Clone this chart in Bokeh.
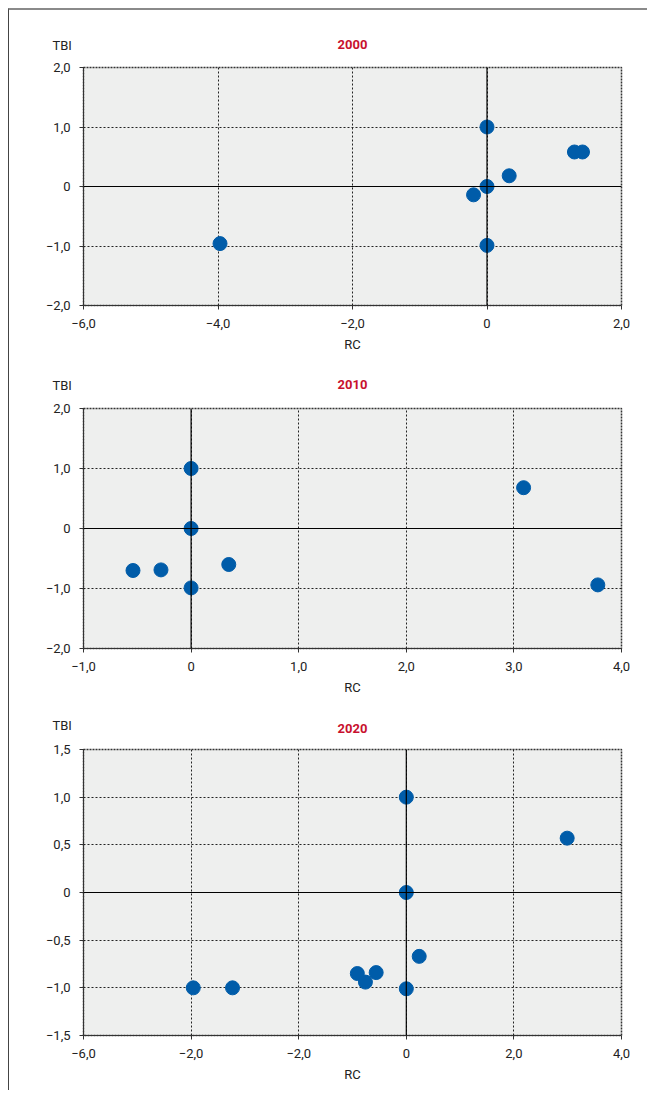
from bokeh.plotting import figure
from bokeh.layouts import column
from bokeh.models import FixedTicker, Span, Title
from bokeh.embed import file_html
from bokeh.resources import INLINE

# ---------------- data ----------------
titles = ["2000", "2010", "2020"]

x2000 = [-3.97, -0.20, 0.0, 0.0, 0.0, 0.33, 1.30, 1.42]
y2000 = [-0.96, -0.14, 1.00, 0.00, -0.99, 0.18, 0.58, 0.58]

x2010 = [-0.54, -0.28, 0.0, 0.0, 0.0, 0.35, 3.09, 3.78]
y2010 = [-0.70, -0.69, 1.00, 0.00, -0.99, -0.60, 0.68, -0.94]

x2020 = [-3.96, -3.23, -0.91, -0.76, -0.56, 0.0, 0.24, 0.0, 0.0, 2.99]
y2020 = [-1.00, -1.00, -0.85, -0.94, -0.84, -1.01, -0.67, 0.00, 1.00, 0.57]

xticks2000 = [-6, -4, -2, 0, 2]
xlabels2000 = ["\u22126,0", "\u22124,0", "\u22122,0", "0", "2,0"]
yticks2000 = [-2, -1, 0, 1, 2]
ylabels2000 = ["\u22122,0", "\u22121,0", "0", "1,0", "2,0"]

xticks2010 = [-1, 0, 1, 2, 3, 4]
xlabels2010 = ["\u22121,0", "0", "1,0", "2,0", "3,0", "4,0"]
yticks2010 = [-2, -1, 0, 1, 2]
ylabels2010 = ["\u22122,0", "\u22121,0", "0", "1,0", "2,0"]

xticks2020 = [-6, -4, -2, 0, 2, 4]
xlabels2020 = ["\u22126,0", "\u22122,0", "\u22122,0", "0", "2,0", "4,0"]
yticks2020 = [-1.5, -1, -0.5, 0, 0.5, 1, 1.5]
ylabels2020 = ["\u22121,5", "\u22121,0", "\u22120,5", "0", "0,5", "1,0", "1,5"]

x_axis_label = "RC"
y_axis_label = "TBI"

FONT = "Roboto"
BLUE = "#005ca9"
RED = "#c8102e"
TXT = "#222222"


def build(title, xs, ys, xticks, xlabels, yticks, ylabels,
          frame_h, b_top, b_bottom, d_title, d_tbi):
    W = 638
    b_left = 74
    frame_w = 538
    b_right = W - b_left - frame_w
    H = b_top + frame_h + b_bottom
    p = figure(width=W, height=H, output_backend="svg", toolbar_location=None,
               x_range=(xticks[0], xticks[-1]), y_range=(yticks[0], yticks[-1]),
               min_border_left=b_left, min_border_right=b_right,
               min_border_top=b_top, min_border_bottom=b_bottom,
               background_fill_color="#eeefee", border_fill_color="white")
    p.outline_line_color = "#333333"
    p.outline_line_dash = "2 1"
    p.outline_line_width = 1.5
    p.title.text = ""

    # centred chart title, just above the frame
    s_in = 2 * (d_title - 4.5)
    p.add_layout(Title(text=title, align="center", text_font=FONT, text_font_size="13px",
                       text_font_style="bold", text_color=RED, standoff=s_in), "above")
    # y-axis caption at the top left, on the same row as the title
    inner_size = 15 + s_in
    s_out = 2 * (d_tbi - inner_size - 4.5)
    p.add_layout(Title(text=y_axis_label, align="left", offset=-31, text_font=FONT,
                       text_font_size="13px", text_font_style="normal", text_color=TXT,
                       standoff=s_out), "above")

    for ax in (p.xaxis[0], p.yaxis[0]):
        ax.major_label_text_font = FONT
        ax.major_label_text_font_size = "13px"
        ax.major_label_text_color = TXT
        ax.axis_line_color = "#333333"
        ax.major_tick_line_color = "#333333"
        ax.major_tick_out = 4
        ax.major_tick_in = 0
        ax.minor_tick_line_color = None
        ax.major_label_standoff = 9

    p.xaxis[0].ticker = FixedTicker(ticks=xticks)
    p.xaxis[0].major_label_overrides = {t: l for t, l in zip(xticks, xlabels)}
    p.yaxis[0].ticker = FixedTicker(ticks=yticks)
    p.yaxis[0].major_label_overrides = {t: l for t, l in zip(yticks, ylabels)}
    p.xaxis[0].axis_label = x_axis_label
    p.xaxis[0].axis_label_text_font = FONT
    p.xaxis[0].axis_label_text_font_size = "13px"
    p.xaxis[0].axis_label_text_font_style = "normal"
    p.xaxis[0].axis_label_text_color = TXT
    p.xaxis[0].axis_label_standoff = 6

    for g in (p.xgrid[0], p.ygrid[0]):
        g.grid_line_color = "#222222"
        g.grid_line_dash = "2 2"
        g.grid_line_width = 1
    p.xgrid[0].ticker = FixedTicker(ticks=xticks)
    p.ygrid[0].ticker = FixedTicker(ticks=yticks)

    p.add_layout(Span(location=0, dimension="height", line_color="black", line_width=1.2))
    p.add_layout(Span(location=0, dimension="width", line_color="black", line_width=1.2))

    p.scatter(xs, ys, size=14, color=BLUE, line_color=BLUE)
    return p


p1 = build(titles[0], x2000, y2000, xticks2000, xlabels2000, yticks2000, ylabels2000,
           239, 57, 48, 23, 23)
p2 = build(titles[1], x2010, y2010, xticks2010, xlabels2010, yticks2010, ylabels2010,
           240, 54, 53, 24, 24)
p3 = build(titles[2], x2020, y2020, xticks2020, xlabels2020, yticks2020, ylabels2020,
           286, 48, 55, 21, 25)

layout = column(p1, p2, p3, spacing=0,
                styles={"border-top": "2px solid #8a8a8a", "border-left": "1px solid #444444",
                        "margin-left": "8px", "margin-top": "8px"})

open("out.html", "w").write(file_html(layout, INLINE))
